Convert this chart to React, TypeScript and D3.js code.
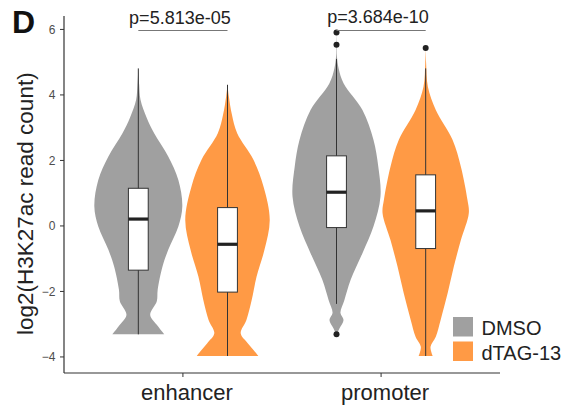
import React from "react";
import * as d3 from "d3";

const categories = ["enhancer", "promoter"];
const groups = ["DMSO", "dTAG-13"];
const groupColors = ["#a0a0a0", "#ff9a45"];
const yTicks = [-4, -2, 0, 2, 4, 6];
const pValues = ["p=5.813e-05", "p=3.684e-10"];

// box statistics per category
const dmsoLow = [-3.31, -2.38];
const dmsoQ1 = [-1.35, -0.05];
const dmsoMedian = [0.21, 1.03];
const dmsoQ3 = [1.15, 2.14];
const dmsoHigh = [4.81, 5.1];
const dmsoOutliers = [[], [5.91, 5.53, -3.31]];

const dtagLow = [-3.97, -3.97];
const dtagQ1 = [-2.02, -0.69];
const dtagMedian = [-0.56, 0.46];
const dtagQ3 = [0.56, 1.56];
const dtagHigh = [4.31, 4.81];
const dtagOutliers = [[], [5.43]];

// violin profiles: [value, relative density width]
const enhancerDmsoViolin = [
  [4.81, 0], [4.3, 0.02], [3.85, 0.05], [3.3, 0.19], [2.83, 0.36], [2.12, 0.68],
  [1.4, 0.91], [0.6, 1.0], [-0.02, 0.91], [-0.73, 0.68], [-1.24, 0.55], [-1.95, 0.44],
  [-2.3, 0.42], [-2.72, 0.27], [-3.02, 0.42], [-3.31, 0.59],
];
const enhancerDtagViolin = [
  [4.31, 0], [3.96, 0.03], [3.4, 0.1], [2.83, 0.22], [2.02, 0.59], [1.2, 0.82],
  [0.18, 0.96], [-0.73, 0.84], [-1.55, 0.66], [-2.26, 0.55], [-2.87, 0.43],
  [-3.28, 0.3], [-3.58, 0.46], [-3.8, 0.6], [-3.97, 0.7],
];
const promoterDmsoViolin = [
  [5.91, 0], [5.5, 0.005], [5.17, 0.01], [4.8, 0.05], [4.36, 0.16], [3.54, 0.59],
  [2.63, 0.84], [1.81, 0.95], [0.9, 1.0], [-0.02, 0.84], [-0.83, 0.59], [-1.65, 0.32],
  [-2.26, 0.18], [-2.66, 0.09], [-2.87, 0.16], [-3.12, 0.07], [-3.31, 0],
];
const promoterDtagViolin = [
  [5.43, 0], [4.97, 0.01], [4.25, 0.05], [3.54, 0.23], [2.63, 0.61], [1.81, 0.8],
  [0.79, 0.95], [0.39, 0.98], [-0.43, 0.8], [-1.24, 0.64], [-2.05, 0.5],
  [-2.87, 0.34], [-3.38, 0.23], [-3.69, 0.11], [-3.97, 0.16],
];

const dmsoViolins = [enhancerDmsoViolin, promoterDmsoViolin];
const dtagViolins = [enhancerDtagViolin, promoterDtagViolin];

const FONT = "'Liberation Sans', Arial, Helvetica, sans-serif";

export default function App() {
  const W = 568, H = 408;
  const x = d3.scaleLinear().domain([0.4, 2.6]).range([64, 500]);
  const y = d3.scaleLinear().domain([-4.49, 6.41]).range([373, 16]);
  const dodge = 0.225;
  const halfW = d3.scaleLinear().domain([0, 1]).range([0, x(0.4 + 0.222) - x(0.4)]);
  const boxHalf = x(0.4 + 0.05) - x(0.4);

  const series = [
    { low: dmsoLow, q1: dmsoQ1, med: dmsoMedian, q3: dmsoQ3, high: dmsoHigh, out: dmsoOutliers, vio: dmsoViolins, off: -dodge },
    { low: dtagLow, q1: dtagQ1, med: dtagMedian, q3: dtagQ3, high: dtagHigh, out: dtagOutliers, vio: dtagViolins, off: dodge },
  ];

  const marks: any[] = [];
  categories.forEach((c, ci) => {
    series.forEach((s, si) => {
      const cx = x(ci + 1 + s.off);
      const area = d3
        .area<number[]>()
        .y((d) => y(d[0]))
        .x0((d) => cx - halfW(d[1]))
        .x1((d) => cx + halfW(d[1]))
        .curve(d3.curveCatmullRom.alpha(0.5));
      marks.push(
        <g key={`${ci}-${si}`}>
          <path d={area(s.vio[ci] as number[][]) || ""} fill={groupColors[si]} stroke="none" />
          <line x1={cx} x2={cx} y1={y(s.high[ci])} y2={y(s.low[ci])} stroke="#333" strokeWidth={1} />
          <rect
            x={cx - boxHalf}
            width={boxHalf * 2}
            y={y(s.q3[ci])}
            height={y(s.q1[ci]) - y(s.q3[ci])}
            fill="#fff"
            stroke="#333"
            strokeWidth={1}
          />
          <line x1={cx - boxHalf} x2={cx + boxHalf} y1={y(s.med[ci])} y2={y(s.med[ci])} stroke="#222" strokeWidth={3.2} />
          {s.out[ci].map((o, oi) => (
            <circle key={oi} cx={cx} cy={y(o)} r={3} fill="#222" />
          ))}
        </g>
      );
    });
  });

  return (
    <svg width={W} height={H} style={{ position: "absolute", left: 0, top: 0 }} fontFamily={FONT}>
      <rect width={W} height={H} fill="#fff" />
      <text x={12} y={33} fontSize={32} fontWeight="bold" fill="#111">D</text>

      {/* y axis */}
      <line x1={64} x2={64} y1={16} y2={373} stroke="#333" strokeWidth={1.2} />
      {yTicks.map((t) => (
        <g key={t}>
          <line x1={60} x2={64} y1={y(t)} y2={y(t)} stroke="#333" strokeWidth={1} />
          <text x={55.5} y={y(t)} dy="0.36em" textAnchor="end" fontSize={12} fill="#4d4d4d">
            {t < 0 ? `\u2212${Math.abs(t)}` : t}
          </text>
        </g>
      ))}
      <text
        transform={`translate(32.5, ${(y(-4) + y(6)) / 2 + 10.5}) rotate(-90)`}
        textAnchor="middle"
        fontSize={22.5}
        fill="#222"
      >
        log2(H3K27ac read count)
      </text>

      {/* x axis */}
      <line x1={64} x2={500} y1={373} y2={373} stroke="#333" strokeWidth={1.2} />
      {categories.map((c, ci) => (
        <g key={c}>
          <line x1={x(ci + 1)} x2={x(ci + 1)} y1={373} y2={377} stroke="#333" strokeWidth={1} />
          <text x={x(ci + 1) + 4} y={400} textAnchor="middle" fontSize={22} fill="#222">
            {c}
          </text>
        </g>
      ))}

      {marks}

      {/* p-value brackets */}
      {categories.map((c, ci) => {
        const x1 = x(ci + 1 - dodge);
        const x2 = x(ci + 1 + dodge);
        return (
          <g key={`p${ci}`}>
            <line x1={x1} x2={x2} y1={30.5} y2={30.5} stroke="#777" strokeWidth={1.2} />
            <text x={(x1 + x2) / 2 - 3} y={ci === 0 ? 24 : 22.5} textAnchor="middle" fontSize={18} fill="#222">
              {pValues[ci]}
            </text>
          </g>
        );
      })}

      {/* legend */}
      {groups.map((g, gi) => (
        <g key={g}>
          <rect x={453} y={317 + gi * 24.5} width={20} height={19.5} fill={groupColors[gi]} />
          <text x={481.5} y={335 + gi * 24.5} fontSize={20} fill="#222">
            {g}
          </text>
        </g>
      ))}
    </svg>
  );
}
